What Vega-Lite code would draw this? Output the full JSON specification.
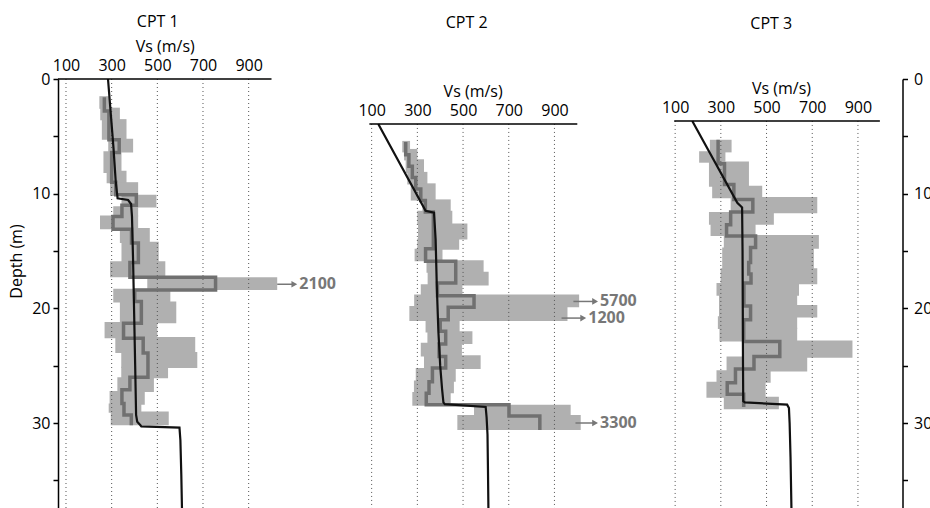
{
  "$schema": "https://vega.github.io/schema/vega-lite/v6.json",
  "padding": {"left": 8, "top": 14, "right": 0, "bottom": 0},
  "background": "white",
  "config": {"view": {"stroke": null}, "font": "Open Sans"},
  "bounds": "flush",
  "spacing": 96,
  "datasets": {
    "band": [
      {"c":1,"d":1.5,"d2":2.6,"v":246,"v2":293},{"c":1,"d":2.5,"d2":3.6,"v":250,"v2":336},{"c":1,"d":3.5,"d2":5.3,"v":257,"v2":365},{"c":1,"d":5.2,"d2":6.4,"v":285,"v2":394},{"c":1,"d":6.3,"d2":8.2,"v":264,"v2":343},{"c":1,"d":8.0,"d2":9.1,"v":278,"v2":365},{"c":1,"d":9.0,"d2":10.2,"v":293,"v2":416},{"c":1,"d":10.1,"d2":11.2,"v":343,"v2":496},{"c":1,"d":11.1,"d2":12.0,"v":307,"v2":416},{"c":1,"d":11.9,"d2":13.1,"v":249,"v2":416},{"c":1,"d":13.0,"d2":14.3,"v":336,"v2":467},{"c":1,"d":14.2,"d2":16.0,"v":343,"v2":506},{"c":1,"d":15.9,"d2":17.3,"v":293,"v2":535},{"c":1,"d":17.3,"d2":18.4,"v":456,"v2":1025},{"c":1,"d":18.3,"d2":19.5,"v":307,"v2":557},{"c":1,"d":19.4,"d2":21.3,"v":336,"v2":583},{"c":1,"d":21.2,"d2":22.6,"v":269,"v2":500},{"c":1,"d":22.5,"d2":23.9,"v":316,"v2":666},{"c":1,"d":23.8,"d2":25.2,"v":342,"v2":675},{"c":1,"d":25.1,"d2":26.1,"v":342,"v2":547},{"c":1,"d":26.0,"d2":27.3,"v":325,"v2":485},{"c":1,"d":27.2,"d2":28.4,"v":291,"v2":445},{"c":1,"d":28.3,"d2":29.1,"v":287,"v2":430},{"c":1,"d":29.0,"d2":30.2,"v":296,"v2":550},
      {"c":2,"d":5.4,"d2":6.4,"v":234,"v2":268},{"c":2,"d":6.1,"d2":7.1,"v":242,"v2":300},{"c":2,"d":7.0,"d2":8.2,"v":249,"v2":329},{"c":2,"d":8.1,"d2":9.2,"v":256,"v2":344},{"c":2,"d":9.1,"d2":10.6,"v":271,"v2":380},{"c":2,"d":10.5,"d2":11.6,"v":322,"v2":446},{"c":2,"d":11.5,"d2":12.7,"v":300,"v2":453},{"c":2,"d":12.6,"d2":14.0,"v":303,"v2":519},{"c":2,"d":13.9,"d2":14.9,"v":300,"v2":483},{"c":2,"d":14.8,"d2":15.9,"v":288,"v2":410},{"c":2,"d":15.8,"d2":16.9,"v":340,"v2":590},{"c":2,"d":16.8,"d2":18.0,"v":345,"v2":612},{"c":2,"d":17.9,"d2":18.9,"v":315,"v2":497},{"c":2,"d":18.8,"d2":19.9,"v":286,"v2":1008},{"c":2,"d":19.8,"d2":21.1,"v":265,"v2":957},{"c":2,"d":21.0,"d2":22.1,"v":336,"v2":485},{"c":2,"d":22.0,"d2":23.1,"v":344,"v2":541},{"c":2,"d":23.0,"d2":24.2,"v":315,"v2":495},{"c":2,"d":24.1,"d2":25.3,"v":329,"v2":577},{"c":2,"d":25.2,"d2":26.4,"v":293,"v2":468},{"c":2,"d":26.3,"d2":27.4,"v":285,"v2":460},{"c":2,"d":27.3,"d2":28.5,"v":278,"v2":446},{"c":2,"d":28.4,"d2":29.4,"v":548,"v2":971},{"c":2,"d":29.3,"d2":30.6,"v":475,"v2":1015},
      {"c":3,"d":5.3,"d2":6.4,"v":252,"v2":347},{"c":3,"d":6.3,"d2":7.3,"v":205,"v2":320},{"c":3,"d":7.2,"d2":9.4,"v":248,"v2":423},{"c":3,"d":9.3,"d2":10.4,"v":262,"v2":481},{"c":3,"d":10.3,"d2":11.7,"v":343,"v2":722},{"c":3,"d":11.6,"d2":12.7,"v":248,"v2":532},{"c":3,"d":12.6,"d2":13.7,"v":255,"v2":452},{"c":3,"d":13.6,"d2":14.8,"v":313,"v2":729},{"c":3,"d":14.7,"d2":16.6,"v":306,"v2":707},{"c":3,"d":16.5,"d2":17.9,"v":299,"v2":722},{"c":3,"d":17.8,"d2":18.9,"v":281,"v2":642},{"c":3,"d":18.8,"d2":19.8,"v":292,"v2":634},{"c":3,"d":19.7,"d2":20.8,"v":292,"v2":722},{"c":3,"d":20.7,"d2":21.8,"v":287,"v2":634},{"c":3,"d":21.7,"d2":22.9,"v":294,"v2":634},{"c":3,"d":22.8,"d2":24.3,"v":394,"v2":876},{"c":3,"d":24.2,"d2":25.5,"v":325,"v2":678},{"c":3,"d":25.4,"d2":26.5,"v":281,"v2":518},{"c":3,"d":26.4,"d2":27.8,"v":237,"v2":496},{"c":3,"d":27.7,"d2":28.8,"v":313,"v2":554}
    ],
    "med": [
      {"c":1,"i":1,"v":268,"d":1.6},{"c":1,"i":2,"v":268,"d":2.8},{"c":1,"i":3,"v":288,"d":2.8},{"c":1,"i":4,"v":288,"d":5.3},{"c":1,"i":5,"v":333,"d":5.3},{"c":1,"i":6,"v":333,"d":6.4},{"c":1,"i":7,"v":300,"d":6.4},{"c":1,"i":8,"v":300,"d":9.0},{"c":1,"i":9,"v":318,"d":9.0},{"c":1,"i":10,"v":318,"d":10.1},{"c":1,"i":11,"v":408,"d":10.1},{"c":1,"i":12,"v":408,"d":11.0},{"c":1,"i":13,"v":345,"d":11.0},{"c":1,"i":14,"v":345,"d":12.0},{"c":1,"i":15,"v":306,"d":12.0},{"c":1,"i":16,"v":306,"d":13.1},{"c":1,"i":17,"v":387,"d":13.1},{"c":1,"i":18,"v":387,"d":14.3},{"c":1,"i":19,"v":417,"d":14.3},{"c":1,"i":20,"v":417,"d":16.0},{"c":1,"i":21,"v":380,"d":16.0},{"c":1,"i":22,"v":380,"d":17.3},{"c":1,"i":23,"v":755,"d":17.3},{"c":1,"i":24,"v":755,"d":18.4},{"c":1,"i":25,"v":401,"d":18.4},{"c":1,"i":26,"v":401,"d":19.4},{"c":1,"i":27,"v":430,"d":19.4},{"c":1,"i":28,"v":430,"d":21.3},{"c":1,"i":29,"v":352,"d":21.3},{"c":1,"i":30,"v":352,"d":22.6},{"c":1,"i":31,"v":438,"d":22.6},{"c":1,"i":32,"v":438,"d":23.9},{"c":1,"i":33,"v":459,"d":23.9},{"c":1,"i":34,"v":459,"d":26.0},{"c":1,"i":35,"v":380,"d":26.0},{"c":1,"i":36,"v":380,"d":27.1},{"c":1,"i":37,"v":345,"d":27.1},{"c":1,"i":38,"v":345,"d":28.3},{"c":1,"i":39,"v":354,"d":28.3},{"c":1,"i":40,"v":354,"d":29.3},{"c":1,"i":41,"v":386,"d":29.3},{"c":1,"i":42,"v":386,"d":30.2},
      {"c":2,"i":1,"v":249,"d":5.5},{"c":2,"i":2,"v":249,"d":6.6},{"c":2,"i":3,"v":263,"d":6.6},{"c":2,"i":4,"v":263,"d":7.6},{"c":2,"i":5,"v":278,"d":7.6},{"c":2,"i":6,"v":278,"d":8.6},{"c":2,"i":7,"v":293,"d":8.6},{"c":2,"i":8,"v":293,"d":9.6},{"c":2,"i":9,"v":315,"d":9.6},{"c":2,"i":10,"v":315,"d":10.6},{"c":2,"i":11,"v":335,"d":10.6},{"c":2,"i":12,"v":335,"d":11.6},{"c":2,"i":13,"v":370,"d":11.6},{"c":2,"i":14,"v":370,"d":14.8},{"c":2,"i":15,"v":336,"d":14.8},{"c":2,"i":16,"v":336,"d":15.9},{"c":2,"i":17,"v":468,"d":15.9},{"c":2,"i":18,"v":468,"d":17.8},{"c":2,"i":19,"v":388,"d":17.8},{"c":2,"i":20,"v":388,"d":18.9},{"c":2,"i":21,"v":548,"d":18.9},{"c":2,"i":22,"v":548,"d":19.9},{"c":2,"i":23,"v":435,"d":19.9},{"c":2,"i":24,"v":435,"d":21.0},{"c":2,"i":25,"v":400,"d":21.0},{"c":2,"i":26,"v":400,"d":22.0},{"c":2,"i":27,"v":424,"d":22.0},{"c":2,"i":28,"v":424,"d":23.1},{"c":2,"i":29,"v":395,"d":23.1},{"c":2,"i":30,"v":395,"d":24.2},{"c":2,"i":31,"v":424,"d":24.2},{"c":2,"i":32,"v":424,"d":25.2},{"c":2,"i":33,"v":366,"d":25.2},{"c":2,"i":34,"v":366,"d":26.4},{"c":2,"i":35,"v":351,"d":26.4},{"c":2,"i":36,"v":351,"d":27.4},{"c":2,"i":37,"v":339,"d":27.4},{"c":2,"i":38,"v":339,"d":28.4},{"c":2,"i":39,"v":701,"d":28.4},{"c":2,"i":40,"v":701,"d":29.4},{"c":2,"i":41,"v":836,"d":29.4},{"c":2,"i":42,"v":836,"d":30.6},
      {"c":3,"i":1,"v":288,"d":5.3},{"c":3,"i":2,"v":288,"d":7.4},{"c":3,"i":3,"v":316,"d":7.4},{"c":3,"i":4,"v":316,"d":9.2},{"c":3,"i":5,"v":357,"d":9.2},{"c":3,"i":6,"v":357,"d":10.5},{"c":3,"i":7,"v":440,"d":10.5},{"c":3,"i":8,"v":440,"d":11.6},{"c":3,"i":9,"v":343,"d":11.6},{"c":3,"i":10,"v":343,"d":12.7},{"c":3,"i":11,"v":325,"d":12.7},{"c":3,"i":12,"v":325,"d":13.7},{"c":3,"i":13,"v":452,"d":13.7},{"c":3,"i":14,"v":452,"d":14.7},{"c":3,"i":15,"v":430,"d":14.7},{"c":3,"i":16,"v":430,"d":16.0},{"c":3,"i":17,"v":422,"d":16.0},{"c":3,"i":18,"v":422,"d":17.0},{"c":3,"i":19,"v":432,"d":17.0},{"c":3,"i":20,"v":432,"d":17.8},{"c":3,"i":21,"v":401,"d":17.8},{"c":3,"i":22,"v":401,"d":19.8},{"c":3,"i":23,"v":430,"d":19.8},{"c":3,"i":24,"v":430,"d":21.0},{"c":3,"i":25,"v":400,"d":21.0},{"c":3,"i":26,"v":400,"d":22.9},{"c":3,"i":27,"v":558,"d":22.9},{"c":3,"i":28,"v":558,"d":24.2},{"c":3,"i":29,"v":445,"d":24.2},{"c":3,"i":30,"v":445,"d":25.3},{"c":3,"i":31,"v":364,"d":25.3},{"c":3,"i":32,"v":364,"d":26.5},{"c":3,"i":33,"v":328,"d":26.5},{"c":3,"i":34,"v":328,"d":27.5},{"c":3,"i":35,"v":400,"d":27.5},{"c":3,"i":36,"v":400,"d":28.6}
    ],
    "prof": [
      {"c":1,"i":1,"v":284,"d":0},{"c":1,"i":2,"v":296,"d":3},{"c":1,"i":3,"v":308,"d":6},{"c":1,"i":4,"v":318,"d":9},{"c":1,"i":5,"v":326,"d":10.4},{"c":1,"i":6,"v":372,"d":10.55},{"c":1,"i":7,"v":385,"d":10.9},{"c":1,"i":8,"v":389,"d":12},{"c":1,"i":9,"v":394,"d":16},{"c":1,"i":10,"v":399,"d":21},{"c":1,"i":11,"v":403,"d":25},{"c":1,"i":12,"v":407,"d":29.3},{"c":1,"i":13,"v":412,"d":29.9},{"c":1,"i":14,"v":426,"d":30.2},{"c":1,"i":15,"v":430,"d":30.3},{"c":1,"i":16,"v":597,"d":30.4},{"c":1,"i":17,"v":601,"d":31.5},{"c":1,"i":18,"v":605,"d":34.5},{"c":1,"i":19,"v":608,"d":37.5},
      {"c":2,"i":1,"v":129,"d":3.92},{"c":2,"i":2,"v":336,"d":11.5},{"c":2,"i":3,"v":373,"d":11.66},{"c":2,"i":4,"v":380,"d":14},{"c":2,"i":5,"v":385,"d":18},{"c":2,"i":6,"v":392,"d":22},{"c":2,"i":7,"v":400,"d":25},{"c":2,"i":8,"v":408,"d":27},{"c":2,"i":9,"v":414,"d":28.2},{"c":2,"i":10,"v":420,"d":28.35},{"c":2,"i":11,"v":599,"d":28.6},{"c":2,"i":12,"v":603,"d":29.5},{"c":2,"i":13,"v":607,"d":31},{"c":2,"i":14,"v":609,"d":34},{"c":2,"i":15,"v":611,"d":37.5},
      {"c":3,"i":1,"v":175,"d":3.66},{"c":3,"i":2,"v":372,"d":10.8},{"c":3,"i":3,"v":393,"d":11.2},{"c":3,"i":4,"v":395,"d":15},{"c":3,"i":5,"v":396,"d":20},{"c":3,"i":6,"v":397,"d":25},{"c":3,"i":7,"v":398,"d":28.1},{"c":3,"i":8,"v":405,"d":28.2},{"c":3,"i":9,"v":590,"d":28.4},{"c":3,"i":10,"v":598,"d":28.7},{"c":3,"i":11,"v":601,"d":30},{"c":3,"i":12,"v":605,"d":33},{"c":3,"i":13,"v":609,"d":37.5}
    ],
    "grid": [
      {"c":1,"v":100,"d":0,"d2":37.5},{"c":1,"v":300,"d":0,"d2":37.5},{"c":1,"v":500,"d":0,"d2":37.5},{"c":1,"v":700,"d":0,"d2":37.5},{"c":1,"v":900,"d":0,"d2":37.5},
      {"c":2,"v":100,"d":3.92,"d2":37.5},{"c":2,"v":300,"d":3.92,"d2":37.5},{"c":2,"v":500,"d":3.92,"d2":37.5},{"c":2,"v":700,"d":3.92,"d2":37.5},{"c":2,"v":900,"d":3.92,"d2":37.5},
      {"c":3,"v":100,"d":3.66,"d2":37.5},{"c":3,"v":300,"d":3.66,"d2":37.5},{"c":3,"v":500,"d":3.66,"d2":37.5},{"c":3,"v":700,"d":3.66,"d2":37.5},{"c":3,"v":900,"d":3.66,"d2":37.5}
    ],
    "top": [
      {"c":1,"v":65,"v2":1000,"d":0},{"c":2,"v":90,"v2":1000,"d":3.92},{"c":3,"v":96,"v2":996,"d":3.66}
    ],
    "arr": [
      {"c":1,"v":1025,"v2":1100,"d":17.9},{"c":2,"v":983,"v2":1078,"d":19.4},{"c":2,"v":931,"v2":1026,"d":20.85},{"c":2,"v":992,"v2":1078,"d":30.0}
    ],
    "tip": [
      {"c":1,"v":1100,"d":17.9,"t":"2100"},{"c":2,"v":1078,"d":19.4,"t":"5700"},{"c":2,"v":1026,"d":20.85,"t":"1200"},{"c":2,"v":1078,"d":30.0,"t":"3300"}
    ]
  },
  "hconcat": [
    {
      "width": 213.5, "height": 430,
      "title": {"text": "CPT 1", "fontSize": 16, "fontWeight": "normal", "font": "Open Sans", "offset": 8, "dx": -7, "color": "#000"},
      "encoding": {
        "x": {"field": "v", "type": "quantitative", "scale": {"domain": [65, 1000], "nice": false, "zero": false},
          "axis": {"orient": "top", "values": [100, 300, 500, 700, 900], "title": "Vs (m/s)", "domain": false, "ticks": false, "grid": false, "labelFontSize": 16, "titleFontSize": 16, "titleFontWeight": "normal", "labelPadding": 6, "titlePadding": 3, "labelColor": "#000", "titleColor": "#000", "labelFlush": false}},
        "y": {"field": "d", "type": "quantitative", "scale": {"domain": [0, 37.5], "reverse": true, "nice": false, "zero": false},
          "axis": {"orient": "left", "values": [0, 5, 10, 15, 20, 25, 30, 35], "labelExpr": "datum.value % 10 == 0 ? datum.label : ''", "title": "Depth (m)", "grid": false, "tickSize": 5, "tickColor": "#000", "tickWidth": 1.5, "domainColor": "#000", "domainWidth": 1.5, "labelFontSize": 16, "labelColor": "#000", "labelPadding": 3, "labelFlush": false, "labelOverlap": false, "titleFontSize": 16, "titleFontWeight": "normal", "titleColor": "#000", "titleX": -34, "titleY": 182}}
      },
      "layer": [
        {"data": {"name": "band"}, "transform": [{"filter": "datum.c == 1"}], "mark": {"type": "rect", "color": "#b0b0b0"}, "encoding": {"x2": {"field": "v2"}, "y2": {"field": "d2"}}},
        {"data": {"name": "grid"}, "transform": [{"filter": "datum.c == 1"}], "mark": {"type": "rule", "color": "#555", "strokeDash": [1, 3], "strokeWidth": 1}, "encoding": {"y2": {"field": "d2"}}},
        {"data": {"name": "med"}, "transform": [{"filter": "datum.c == 1"}], "mark": {"type": "line", "color": "#707070", "strokeWidth": 3.5}, "encoding": {"order": {"field": "i", "type": "quantitative"}}},
        {"data": {"name": "prof"}, "transform": [{"filter": "datum.c == 1"}], "mark": {"type": "line", "color": "#111", "strokeWidth": 2.2}, "encoding": {"order": {"field": "i", "type": "quantitative"}}},
        {"data": {"name": "top"}, "transform": [{"filter": "datum.c == 1"}], "mark": {"type": "rule", "color": "#000", "strokeWidth": 1.5}, "encoding": {"x2": {"field": "v2"}}},
        {"data": {"name": "arr"}, "transform": [{"filter": "datum.c == 1"}], "mark": {"type": "rule", "color": "#777", "strokeWidth": 1.5}, "encoding": {"x2": {"field": "v2"}}},
        {"data": {"name": "tip"}, "transform": [{"filter": "datum.c == 1"}], "mark": {"type": "point", "shape": "triangle-right", "filled": true, "color": "#777", "size": 45, "opacity": 1}},
        {"data": {"name": "tip"}, "transform": [{"filter": "datum.c == 1"}], "mark": {"type": "text", "align": "left", "baseline": "middle", "dx": 5, "fontSize": 16, "fontWeight": "bold", "color": "#777"}, "encoding": {"text": {"field": "t"}}}
      ]
    },
    {
      "width": 209.3, "height": 430,
      "title": {"text": "CPT 2", "fontSize": 16, "fontWeight": "normal", "font": "Open Sans", "offset": 48, "dx": -6, "color": "#000"},
      "encoding": {
        "x": {"field": "v", "type": "quantitative", "scale": {"domain": [84, 1000], "nice": false, "zero": false},
          "axis": {"orient": "top", "offset": -45, "values": [100, 300, 500, 700, 900], "title": "Vs (m/s)", "domain": false, "ticks": false, "grid": false, "labelFontSize": 16, "titleFontSize": 16, "titleFontWeight": "normal", "labelPadding": 6, "titlePadding": 3, "labelColor": "#000", "titleColor": "#000", "labelFlush": false}},
        "y": {"field": "d", "type": "quantitative", "scale": {"domain": [0, 37.5], "reverse": true, "nice": false, "zero": false}, "axis": null}
      },
      "layer": [
        {"data": {"name": "band"}, "transform": [{"filter": "datum.c == 2"}], "mark": {"type": "rect", "color": "#b0b0b0"}, "encoding": {"x2": {"field": "v2"}, "y2": {"field": "d2"}}},
        {"data": {"name": "grid"}, "transform": [{"filter": "datum.c == 2"}], "mark": {"type": "rule", "color": "#555", "strokeDash": [1, 3], "strokeWidth": 1}, "encoding": {"y2": {"field": "d2"}}},
        {"data": {"name": "med"}, "transform": [{"filter": "datum.c == 2"}], "mark": {"type": "line", "color": "#707070", "strokeWidth": 3.5}, "encoding": {"order": {"field": "i", "type": "quantitative"}}},
        {"data": {"name": "prof"}, "transform": [{"filter": "datum.c == 2"}], "mark": {"type": "line", "color": "#111", "strokeWidth": 2.2}, "encoding": {"order": {"field": "i", "type": "quantitative"}}},
        {"data": {"name": "top"}, "transform": [{"filter": "datum.c == 2"}], "mark": {"type": "rule", "color": "#000", "strokeWidth": 1.5}, "encoding": {"x2": {"field": "v2"}}},
        {"data": {"name": "arr"}, "transform": [{"filter": "datum.c == 2"}], "mark": {"type": "rule", "color": "#777", "strokeWidth": 1.5}, "encoding": {"x2": {"field": "v2"}}},
        {"data": {"name": "tip"}, "transform": [{"filter": "datum.c == 2"}], "mark": {"type": "point", "shape": "triangle-right", "filled": true, "color": "#777", "size": 45, "opacity": 1}},
        {"data": {"name": "tip"}, "transform": [{"filter": "datum.c == 2"}], "mark": {"type": "text", "align": "left", "baseline": "middle", "dx": 5, "fontSize": 16, "fontWeight": "bold", "color": "#777"}, "encoding": {"text": {"field": "t"}}}
      ]
    },
    {
      "width": 228.5, "height": 430,
      "title": {"text": "CPT 3", "fontSize": 16, "fontWeight": "normal", "font": "Open Sans", "offset": 39, "dx": -17, "color": "#000"},
      "encoding": {
        "x": {"field": "v", "type": "quantitative", "scale": {"domain": [95, 1095], "nice": false, "zero": false},
          "axis": {"orient": "top", "offset": -42, "values": [100, 300, 500, 700, 900], "title": "Vs (m/s)", "titleX": 107, "domain": false, "ticks": false, "grid": false, "labelFontSize": 16, "titleFontSize": 16, "titleFontWeight": "normal", "labelPadding": 6, "titlePadding": 3, "labelColor": "#000", "titleColor": "#000", "labelFlush": false}},
        "y": {"field": "d", "type": "quantitative", "scale": {"domain": [0, 37.5], "reverse": true, "nice": false, "zero": false},
          "axis": {"orient": "right", "values": [0, 5, 10, 15, 20, 25, 30, 35], "labelExpr": "datum.value % 10 == 0 ? datum.label : ''", "title": null, "grid": false, "tickSize": 5, "tickColor": "#000", "tickWidth": 1.5, "domainColor": "#000", "domainWidth": 1.5, "labelFontSize": 16, "labelColor": "#000", "labelPadding": 6, "labelFlush": false, "labelOverlap": false}}
      },
      "layer": [
        {"data": {"name": "band"}, "transform": [{"filter": "datum.c == 3"}], "mark": {"type": "rect", "color": "#b0b0b0"}, "encoding": {"x2": {"field": "v2"}, "y2": {"field": "d2"}}},
        {"data": {"name": "grid"}, "transform": [{"filter": "datum.c == 3"}], "mark": {"type": "rule", "color": "#555", "strokeDash": [1, 3], "strokeWidth": 1}, "encoding": {"y2": {"field": "d2"}}},
        {"data": {"name": "med"}, "transform": [{"filter": "datum.c == 3"}], "mark": {"type": "line", "color": "#707070", "strokeWidth": 3.5}, "encoding": {"order": {"field": "i", "type": "quantitative"}}},
        {"data": {"name": "prof"}, "transform": [{"filter": "datum.c == 3"}], "mark": {"type": "line", "color": "#111", "strokeWidth": 2.2}, "encoding": {"order": {"field": "i", "type": "quantitative"}}},
        {"data": {"name": "top"}, "transform": [{"filter": "datum.c == 3"}], "mark": {"type": "rule", "color": "#000", "strokeWidth": 1.5}, "encoding": {"x2": {"field": "v2"}}}
      ]
    }
  ]
}
